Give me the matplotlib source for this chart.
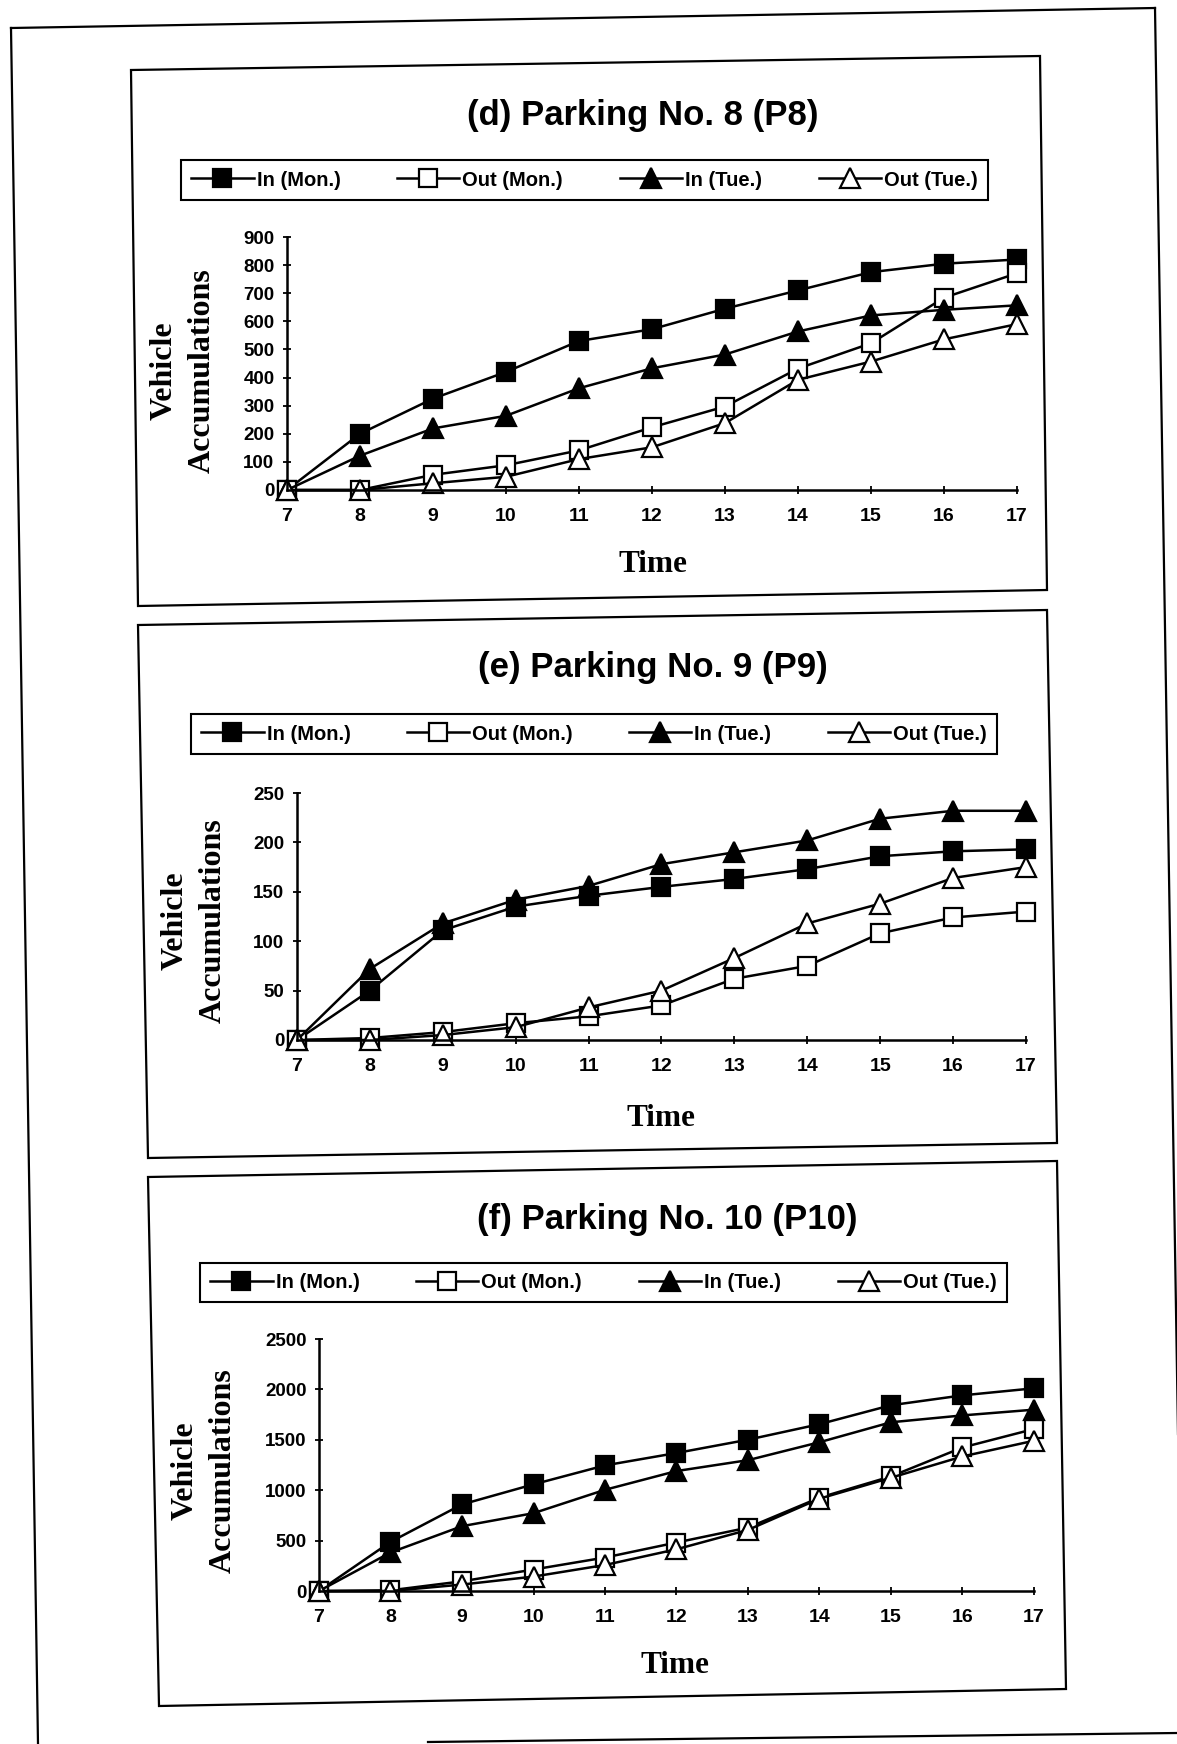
import matplotlib
matplotlib.use("Agg")
import matplotlib.pyplot as plt
from matplotlib.patches import Polygon
from matplotlib.lines import Line2D

plt.rcParams["font.family"] = ["Liberation Sans", "DejaVu Sans"]

# page size in pixels
W, H = 1177, 1744

hours = [7, 8, 9, 10, 11, 12, 13, 14, 15, 16, 17]
series_names = ["In (Mon.)", "Out (Mon.)", "In (Tue.)", "Out (Tue.)"]

# (d) Parking No. 8
p8_in_mon = [0, 200, 325, 420, 530, 572, 645, 710, 775, 805, 820]
p8_out_mon = [0, 0, 54, 88, 141, 223, 297, 432, 522, 684, 771]
p8_in_tue = [0, 122, 219, 264, 362, 433, 482, 564, 621, 641, 657]
p8_out_tue = [0, 0, 24, 47, 110, 152, 238, 392, 457, 536, 590]

# (e) Parking No. 9
p9_in_mon = [0, 50, 111, 135, 146, 155, 163, 173, 186, 191, 193]
p9_out_mon = [0, 2, 8, 17, 24, 35, 62, 75, 108, 124, 130]
p9_in_tue = [0, 72, 118, 142, 156, 178, 190, 202, 224, 232, 232]
p9_out_tue = [0, 0, 5, 13, 33, 50, 83, 118, 138, 164, 175]

# (f) Parking No. 10
p10_in_mon = [0, 487, 859, 1058, 1246, 1369, 1501, 1655, 1843, 1941, 2011]
p10_out_mon = [0, 7, 96, 213, 332, 481, 629, 926, 1137, 1424, 1607]
p10_in_tue = [0, 382, 643, 772, 1004, 1190, 1298, 1476, 1674, 1742, 1799]
p10_out_tue = [0, 0, 64, 143, 258, 414, 606, 916, 1124, 1335, 1491]


def fx(x):
    return x / W


def fy(y):
    return 1 - y / H


fig = plt.figure(figsize=(W / 100, H / 100), dpi=100)

# marker styles: filled/hollow squares for Monday, triangles for Tuesday
styles = [
    dict(marker="s", ms=13.5, mfc="black"),
    dict(marker="s", ms=13.5, mfc="white"),
    dict(marker="^", ms=14.5, mfc="black"),
    dict(marker="^", ms=14.5, mfc="white"),
]


def draw_panel(title, series, ymax, ystep, frame, axbox, title_xy, leg_box, ylab_xy, time_xy):
    # outer box of the panel
    fig.add_artist(Polygon([(fx(x), fy(y)) for x, y in frame], closed=True, fill=False,
                           edgecolor="black", linewidth=1.6, transform=fig.transFigure))

    l, t, r, b = axbox
    ax = fig.add_axes([fx(l), fy(b), fx(r) - fx(l), fy(t) - fy(b)])
    handles = []
    for vals, st in zip(series, styles):
        h, = ax.plot(hours, vals, color="black", linewidth=1.8, mec="black", mew=1.6,
                     clip_on=False, **st)
        handles.append(h)

    ax.set_xlim(7, 17)
    ax.set_ylim(0, ymax)
    ax.set_xticks(hours)
    ax.set_yticks(range(0, ymax + 1, ystep))
    for s in ["top", "right"]:
        ax.spines[s].set_visible(False)
    for s in ["left", "bottom"]:
        ax.spines[s].set_linewidth(1.8)
    ax.tick_params(axis="x", direction="inout", length=6, width=1.3, pad=10, labelsize=14)
    ax.tick_params(axis="y", direction="inout", length=6, width=1.3, pad=6, labelsize=13.5)
    for lab in ax.get_xticklabels() + ax.get_yticklabels():
        lab.set_fontweight("bold")
    ax.patch.set_alpha(0)

    fig.text(fx(title_xy[0]), fy(title_xy[1]), title, ha="center", va="center",
             fontsize=25, fontweight="bold")

    x0, y0, x1, y1 = leg_box
    leg = fig.legend(handles, series_names, loc="center",
                     bbox_to_anchor=(fx(x0), fy(y1), fx(x1) - fx(x0), fy(y0) - fy(y1)),
                     mode="expand", ncol=4, fancybox=False, edgecolor="black",
                     framealpha=1, handlelength=3.1, handletextpad=0.15, borderpad=0.5,
                     borderaxespad=0, prop=dict(weight="bold", size=14.5))
    leg.get_frame().set_linewidth(1.5)

    fig.text(fx(ylab_xy[0]), fy(ylab_xy[1]), "Vehicle\nAccumulations", rotation=90,
             ha="center", va="center", multialignment="center", linespacing=1.4,
             family="Liberation Serif", fontsize=23, fontweight="bold")
    fig.text(fx(time_xy[0]), fy(time_xy[1]), "Time", ha="center", va="center",
             family="Liberation Serif", fontsize=22.5, fontweight="bold")


draw_panel("(d) Parking No. 8 (P8)",
           [p8_in_mon, p8_out_mon, p8_in_tue, p8_out_tue], 900, 100,
           frame=[(131, 70), (1040, 56), (1047, 590), (138, 606)],
           axbox=(287, 237, 1017, 490),
           title_xy=(643, 115), leg_box=(181, 156, 988, 204),
           ylab_xy=(183, 371), time_xy=(653, 565))

draw_panel("(e) Parking No. 9 (P9)",
           [p9_in_mon, p9_out_mon, p9_in_tue, p9_out_tue], 250, 50,
           frame=[(138, 625), (1047, 610), (1057, 1143), (148, 1158)],
           axbox=(297, 793, 1026, 1040),
           title_xy=(653, 667), leg_box=(191, 708, 997, 760),
           ylab_xy=(194, 921), time_xy=(661, 1118))

draw_panel("(f) Parking No. 10 (P10)",
           [p10_in_mon, p10_out_mon, p10_in_tue, p10_out_tue], 2500, 500,
           frame=[(148, 1177), (1057, 1161), (1066, 1689), (159, 1706)],
           axbox=(319, 1339, 1034, 1591),
           title_xy=(667, 1220), leg_box=(200, 1257, 1007, 1308),
           ylab_xy=(204, 1471), time_xy=(675, 1665))

# page edges of the scanned sheet
page_lines = [
    [(11, 28), (1155, 8)],
    [(11, 28), (38, 1744)],
    [(1155, 8), (1183, 1744)],
    [(428, 1742), (1177, 1733)],
]
for (xa, ya), (xb, yb) in page_lines:
    fig.add_artist(Line2D([fx(xa), fx(xb)], [fy(ya), fy(yb)], color="black",
                          linewidth=1.6, transform=fig.transFigure))

fig.savefig("out.png", dpi=100, facecolor="white")
